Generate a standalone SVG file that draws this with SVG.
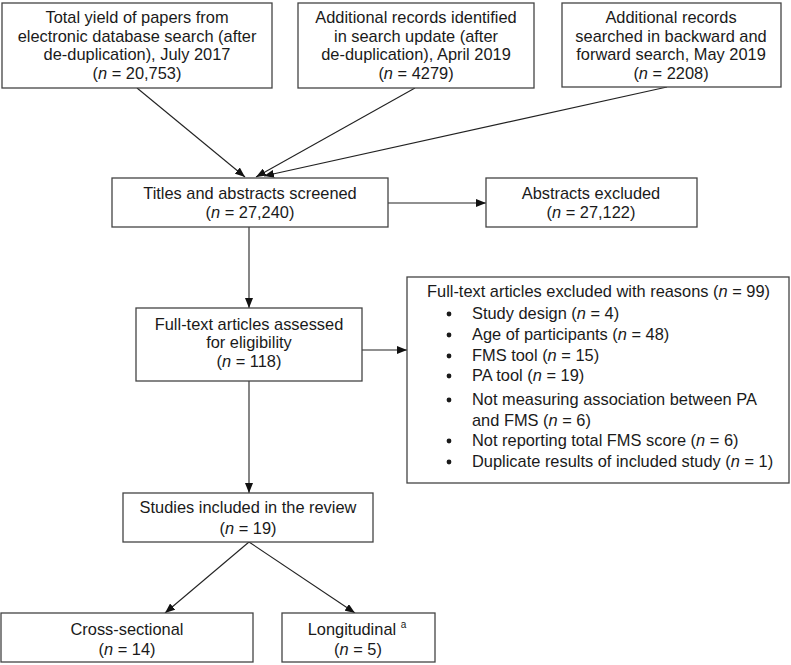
<svg xmlns="http://www.w3.org/2000/svg" width="791" height="665" viewBox="0 0 791 665">
<defs>
<marker id="ah" viewBox="0 0 10 8" refX="10" refY="4" markerWidth="10" markerHeight="8" markerUnits="userSpaceOnUse" orient="auto">
<path d="M0,0 L10,4 L0,8 z" fill="#111"/>
</marker>
<style>
.box{fill:#fff;stroke:#444;stroke-width:1.3}
text{font-family:"Liberation Sans",Arial,sans-serif;font-size:16.4px;fill:#1a1a1a}
.c{text-anchor:middle}
.ln{stroke:#222;stroke-width:1.1;fill:none}
.arr{marker-end:url(#ah)}
</style>
</defs>
<rect width="791" height="665" fill="#fff"/>
<g id="connectors">
<line class="ln arr" x1="137" y1="88" x2="245" y2="177"/>
<line class="ln arr" x1="415" y1="88" x2="256" y2="177"/>
<line class="ln arr" x1="667" y1="87" x2="264" y2="176"/>
<line class="ln arr" x1="388" y1="203" x2="486" y2="203"/>
<line class="ln arr" x1="249" y1="227" x2="249" y2="308"/>
<line class="ln arr" x1="362" y1="350" x2="407" y2="350"/>
<line class="ln arr" x1="249" y1="381" x2="249" y2="493"/>
<line class="ln arr" x1="249" y1="542" x2="165" y2="613"/>
<line class="ln arr" x1="249" y1="542" x2="355" y2="613"/>
</g>
<g id="n1">
<rect class="box" x="2" y="3" width="270" height="85"/>
<text class="c" x="137" y="23">Total yield of papers from</text>
<text class="c" x="137" y="42">electronic database search (after</text>
<text class="c" x="137" y="60">de-duplication), July 2017</text>
<text class="c" x="137" y="79">(<tspan font-style="italic">n</tspan> = 20,753)</text>
</g>
<g id="n2">
<rect class="box" x="298" y="3" width="236" height="85"/>
<text class="c" x="416" y="23">Additional records identified</text>
<text class="c" x="416" y="42">in search update (after</text>
<text class="c" x="416" y="60">de-duplication), April 2019</text>
<text class="c" x="416" y="79">(<tspan font-style="italic">n</tspan> = 4279)</text>
</g>
<g id="n3">
<rect class="box" x="562" y="3" width="219" height="84"/>
<text class="c" x="671" y="23">Additional records</text>
<text class="c" x="671" y="42">searched in backward and</text>
<text class="c" x="671" y="60">forward search, May 2019</text>
<text class="c" x="671" y="79">(<tspan font-style="italic">n</tspan> = 2208)</text>
</g>
<g id="n4">
<rect class="box" x="112" y="178" width="276" height="49"/>
<text class="c" x="250" y="199">Titles and abstracts screened</text>
<text class="c" x="250" y="218">(<tspan font-style="italic">n</tspan> = 27,240)</text>
</g>
<g id="n5">
<rect class="box" x="486" y="178" width="211" height="49"/>
<text class="c" x="591" y="199">Abstracts excluded</text>
<text class="c" x="591" y="218">(<tspan font-style="italic">n</tspan> = 27,122)</text>
</g>
<g id="n6">
<rect class="box" x="136" y="308" width="226" height="73"/>
<text class="c" x="249" y="330">Full-text articles assessed</text>
<text class="c" x="249" y="348">for eligibility</text>
<text class="c" x="249" y="367">(<tspan font-style="italic">n</tspan> = 118)</text>
</g>
<g id="n7">
<rect class="box" x="407" y="277" width="382" height="206"/>
<text x="427" y="297">Full-text articles excluded with reasons (<tspan font-style="italic">n</tspan> = 99)</text>
<g fill="#1a1a1a">
<circle cx="449" cy="314" r="2.4"/>
<circle cx="449" cy="335" r="2.4"/>
<circle cx="449" cy="356" r="2.4"/>
<circle cx="449" cy="376" r="2.4"/>
<circle cx="449" cy="400" r="2.4"/>
<circle cx="449" cy="441" r="2.4"/>
<circle cx="449" cy="462" r="2.4"/>
</g>
<text x="472" y="319">Study design (<tspan font-style="italic">n</tspan> = 4)</text>
<text x="472" y="340">Age of participants (<tspan font-style="italic">n</tspan> = 48)</text>
<text x="472" y="361">FMS tool (<tspan font-style="italic">n</tspan> = 15)</text>
<text x="472" y="381">PA tool (<tspan font-style="italic">n</tspan> = 19)</text>
<text x="472" y="405">Not measuring association between PA</text>
<text x="472" y="426">and FMS (<tspan font-style="italic">n</tspan> = 6)</text>
<text x="472" y="446">Not reporting total FMS score (<tspan font-style="italic">n</tspan> = 6)</text>
<text x="472" y="467">Duplicate results of included study (<tspan font-style="italic">n</tspan> = 1)</text>
</g>
<g id="n8">
<rect class="box" x="123" y="493" width="250" height="49"/>
<text class="c" x="248" y="513">Studies included in the review</text>
<text class="c" x="248" y="534">(<tspan font-style="italic">n</tspan> = 19)</text>
</g>
<g id="n9">
<rect class="box" x="1" y="613" width="252" height="49"/>
<text class="c" x="127" y="635">Cross-sectional</text>
<text class="c" x="127" y="655">(<tspan font-style="italic">n</tspan> = 14)</text>
</g>
<g id="n10">
<rect class="box" x="282" y="613" width="153" height="49"/>
<text class="c" x="357" y="635">Longitudinal <tspan font-size="10px" dy="-7">a</tspan></text>
<text class="c" x="358" y="655">(<tspan font-style="italic">n</tspan> = 5)</text>
</g>
</svg>
